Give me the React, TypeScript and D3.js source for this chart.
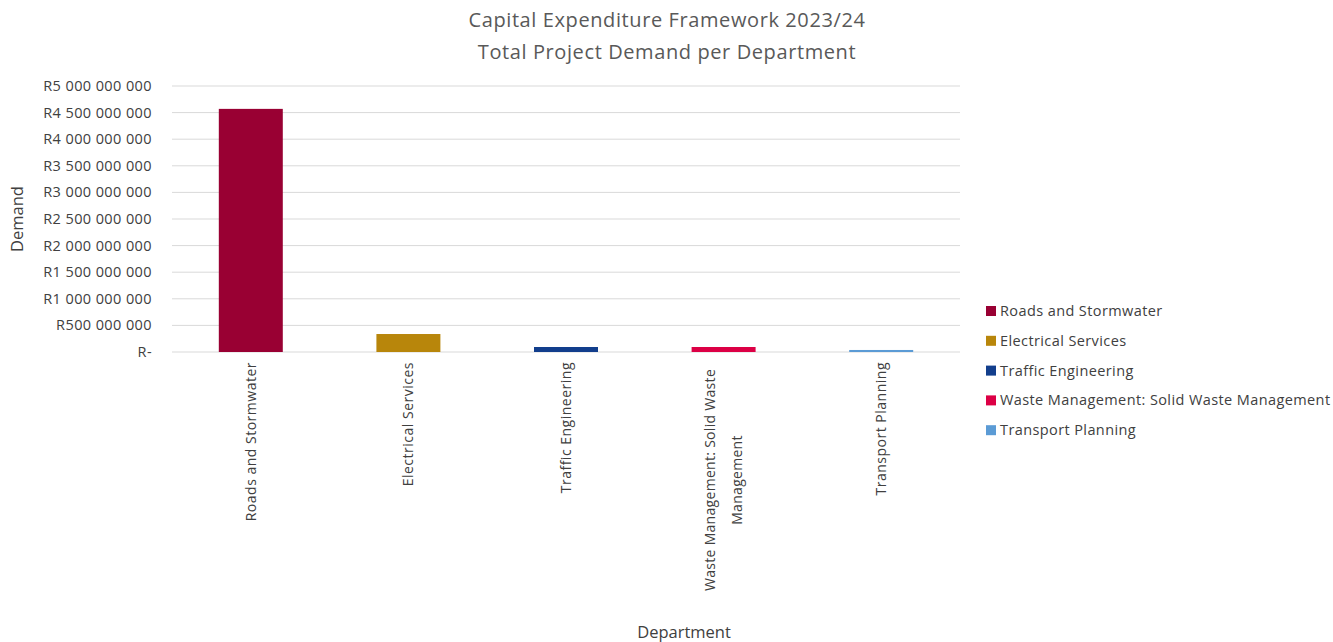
import React from "react";
import * as d3 from "d3";

const categories = [
  "Roads and Stormwater",
  "Electrical Services",
  "Traffic Engineering",
  "Waste Management: Solid Waste Management",
  "Transport Planning",
];
const labelLines = [
  ["Roads and Stormwater"],
  ["Electrical Services"],
  ["Traffic Engineering"],
  ["Waste Management: Solid Waste", "Management"],
  ["Transport Planning"],
];
const values = [4570000000, 338000000, 94000000, 94000000, 38000000];
const colors = ["#990033", "#B8860B", "#123E8C", "#DC0045", "#5B9BD5"];
const yTicks = [0, 5e8, 1e9, 1.5e9, 2e9, 2.5e9, 3e9, 3.5e9, 4e9, 4.5e9, 5e9];
const titleLines = ["Capital Expenditure Framework 2023/24", "Total Project Demand per Department"];

const W = 1333;
const H = 642;
const plot = { left: 172, right: 960, top: 86, bottom: 352 };
const font = "'Open Sans', sans-serif";

function fmt(v: number) {
  if (v === 0) return "R-";
  const s = String(Math.round(v)).replace(/\B(?=(\d{3})+(?!\d))/g, " ");
  return "R" + s;
}

export default function App() {
  const x = d3.scaleBand<string>().domain(categories).range([plot.left, plot.right]).paddingInner(0.594).paddingOuter(0.297);
  const y = d3.scaleLinear().domain([0, 5e9]).range([plot.bottom, plot.top]);
  return (
    <svg width={W} height={H} style={{ position: "absolute", left: 0, top: 0, background: "#fff" }}>
      <rect width={W} height={H} fill="#fff" />
      {titleLines.map((t, i) => (
        <text key={i} x={667} y={27 + i * 32} textAnchor="middle" fontFamily={font} fontSize={20} fill="#595959" letterSpacing={0.6}>
          {t}
        </text>
      ))}
      {yTicks.map((t) => (
        <g key={t}>
          <line x1={plot.left} x2={plot.right} y1={y(t)} y2={y(t)} stroke="#d9d9d9" strokeWidth={1} />
          <text x={152} y={y(t)} dy="0.35em" textAnchor="end" fontFamily={font} fontSize={14.5} letterSpacing={0.4} fill="#404040">
            {fmt(t)}
          </text>
        </g>
      ))}
      {categories.map((c, i) => (
        <rect key={c} x={x(c)} y={y(values[i])} width={x.bandwidth()} height={plot.bottom - y(values[i])} fill={colors[i]} />
      ))}
      {categories.map((c, i) => {
        const cx = (x(c) as number) + x.bandwidth() / 2;
        const lines = labelLines[i];
        const lh = 28;
        if (lines.length === 1) {
          return (
            <text key={c} transform={`translate(${cx},362) rotate(-90)`} textAnchor="end" dy="0.35em" fontFamily={font} fontSize={14} letterSpacing={0.5} fill="#404040">
              {lines[0]}
            </text>
          );
        }
        return (
          <text key={c} transform={`translate(${cx},480) rotate(-90)`} textAnchor="middle" fontFamily={font} fontSize={14} letterSpacing={0.3} fill="#404040">
            {lines.map((l, j) => (
              <tspan key={j} x={0} y={(j - (lines.length - 1) / 2) * lh} dy="0.35em">
                {l}
              </tspan>
            ))}
          </text>
        );
      })}
      <text transform="translate(23,219) rotate(-90)" textAnchor="middle" fontFamily={font} fontSize={16.5} fill="#404040">
        Demand
      </text>
      <text x={684} y={638} textAnchor="middle" fontFamily={font} fontSize={16.5} fill="#404040">
        Department
      </text>
      {categories.map((c, i) => (
        <g key={c} transform={`translate(986,${311 + i * 29.8})`}>
          <rect x={0} y={-5} width={10} height={10} fill={colors[i]} />
          <text x={14} y={0} dy="0.35em" fontFamily={font} fontSize={14.5} letterSpacing={0.4} fill="#404040">
            {c}
          </text>
        </g>
      ))}
    </svg>
  );
}
